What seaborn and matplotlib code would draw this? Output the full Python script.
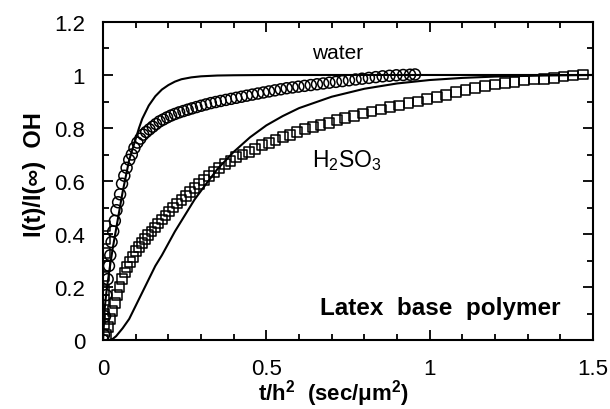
import numpy as np
import pandas as pd
import matplotlib
matplotlib.use("Agg")
import matplotlib.pyplot as plt
from matplotlib.ticker import MultipleLocator
import seaborn as sns

# ---- data ----
water_x = [0.000, 0.003, 0.006, 0.010, 0.014, 0.018, 0.022, 0.026, 0.031, 0.036,
           0.041, 0.046, 0.052, 0.058, 0.065, 0.072, 0.080, 0.088, 0.096, 0.105,
           0.114, 0.123, 0.132, 0.142, 0.152, 0.162, 0.173, 0.184, 0.196, 0.208,
           0.220, 0.233, 0.246, 0.259, 0.272, 0.286, 0.300, 0.315, 0.330, 0.345,
           0.360, 0.376, 0.392, 0.408, 0.424, 0.440, 0.457, 0.474, 0.491, 0.508,
           0.526, 0.544, 0.562, 0.580, 0.598, 0.617, 0.636, 0.655, 0.674, 0.693,
           0.713, 0.733, 0.753, 0.773, 0.793, 0.814, 0.835, 0.856, 0.877, 0.898,
           0.919, 0.940, 0.955]
water_y = [0.00, 0.02, 0.09, 0.17, 0.23, 0.28, 0.32, 0.37, 0.41, 0.45,
           0.49, 0.52, 0.55, 0.59, 0.62, 0.65, 0.68, 0.70, 0.725, 0.745,
           0.76, 0.775, 0.785, 0.795, 0.805, 0.815, 0.825, 0.832, 0.84, 0.847,
           0.853, 0.859, 0.864, 0.869, 0.874, 0.879, 0.884, 0.889, 0.894, 0.898,
           0.902, 0.906, 0.910, 0.914, 0.918, 0.922, 0.926, 0.930, 0.934, 0.938,
           0.942, 0.946, 0.950, 0.953, 0.956, 0.959, 0.962, 0.965, 0.968, 0.971,
           0.974, 0.977, 0.980, 0.983, 0.986, 0.989, 0.992, 0.995, 0.997, 0.999,
           1.000, 1.001, 1.002]

acid_x = [0.002, 0.003, 0.003, 0.004, 0.004, 0.005, 0.005, 0.006, 0.006,
          0.000, 0.008, 0.015, 0.022, 0.029, 0.036, 0.043, 0.050, 0.058, 0.066,
          0.074, 0.082, 0.091, 0.100, 0.109, 0.118, 0.128, 0.138, 0.148, 0.158,
          0.169, 0.180, 0.191, 0.203, 0.215, 0.227, 0.240, 0.253, 0.266, 0.280,
          0.294, 0.309, 0.324, 0.340, 0.356, 0.373, 0.390, 0.408, 0.427, 0.446,
          0.466, 0.486, 0.507, 0.528, 0.550, 0.572, 0.595, 0.618, 0.642, 0.666,
          0.691, 0.716, 0.742, 0.768, 0.795, 0.822, 0.850, 0.878, 0.906, 0.935,
          0.964, 0.993, 1.022, 1.050, 1.080, 1.110, 1.140, 1.170, 1.200, 1.230,
          1.260, 1.290, 1.320, 1.350, 1.380, 1.410, 1.440, 1.470]
acid_y = [0.06, 0.10, 0.15, 0.19, 0.24, 0.28, 0.33, 0.38, 0.43,
          0.00, 0.02, 0.05, 0.08, 0.11, 0.14, 0.17, 0.20, 0.23, 0.255,
          0.275, 0.295, 0.315, 0.335, 0.35, 0.365, 0.38, 0.395, 0.41, 0.425,
          0.44, 0.455, 0.47, 0.485, 0.50, 0.515, 0.53, 0.545, 0.56, 0.575,
          0.59, 0.605, 0.62, 0.635, 0.65, 0.665, 0.675, 0.69, 0.70, 0.71,
          0.72, 0.735, 0.745, 0.755, 0.765, 0.775, 0.785, 0.795, 0.805, 0.812,
          0.82, 0.83, 0.838, 0.846, 0.855, 0.862, 0.87, 0.878, 0.885, 0.893,
          0.90, 0.908, 0.917, 0.926, 0.935, 0.943, 0.951, 0.958, 0.964, 0.970,
          0.975, 0.979, 0.983, 0.986, 0.990, 0.994, 0.998, 1.002]

water_fit_x = [0.0, 0.005, 0.01, 0.02, 0.03, 0.04, 0.05, 0.06, 0.07, 0.08, 0.09, 0.10,
               0.11, 0.12, 0.13, 0.14, 0.16, 0.18, 0.20, 0.22, 0.24, 0.27, 0.30,
               0.35, 0.40, 0.50, 0.70, 1.00, 1.50]
water_fit_y = [0.0, 0.12, 0.18, 0.27, 0.35, 0.42, 0.49, 0.56, 0.62, 0.68, 0.72, 0.76,
               0.80, 0.835, 0.86, 0.885, 0.92, 0.945, 0.962, 0.975, 0.984, 0.991, 0.995,
               0.998, 0.999, 1.0, 1.0, 1.0, 1.0]

acid_fit_x = [0.0, 0.02, 0.03, 0.04, 0.05, 0.06, 0.08, 0.10, 0.12, 0.14, 0.16, 0.18,
              0.20, 0.22, 0.25, 0.28, 0.31, 0.35, 0.40, 0.45, 0.50, 0.55, 0.60, 0.70,
              0.80, 0.90, 1.00, 1.10, 1.20, 1.35, 1.50]
acid_fit_y = [0.0, 0.0, 0.005, 0.015, 0.03, 0.045, 0.08, 0.13, 0.18, 0.23, 0.28, 0.32,
              0.365, 0.41, 0.47, 0.53, 0.58, 0.645, 0.71, 0.765, 0.81, 0.845, 0.875, 0.918,
              0.948, 0.968, 0.981, 0.989, 0.994, 0.998, 1.0]

x_ticks = [0, 0.5, 1, 1.5]
x_ticklabels = ['0', '0.5', '1', '1.5']
y_ticks = [0, 0.2, 0.4, 0.6, 0.8, 1.0, 1.2]
y_ticklabels = ['0', '0.2', '0.4', '0.6', '0.8', '1', '1.2']

# ---- plotting ----
sns.set_style("ticks", {"axes.edgecolor": "black", "text.color": "black",
                        "axes.labelcolor": "black", "xtick.color": "black",
                        "ytick.color": "black"})
plt.rcParams['font.family'] = ['Liberation Sans', 'DejaVu Sans']
plt.rcParams['mathtext.fontset'] = 'custom'
plt.rcParams['mathtext.rm'] = 'Liberation Sans'
plt.rcParams['mathtext.it'] = 'Liberation Sans:italic'
plt.rcParams['mathtext.bf'] = 'Liberation Sans:bold'

fig = plt.figure(figsize=(6.1, 4.1), dpi=100)
ax = fig.add_axes([0.169, 0.168, 0.803, 0.776])

sns.lineplot(x=water_fit_x, y=water_fit_y, ax=ax, color='black', lw=1.5,
             estimator=None, sort=False)
sns.lineplot(x=acid_fit_x, y=acid_fit_y, ax=ax, color='black', lw=1.5,
             estimator=None, sort=False)
sns.scatterplot(x=water_x, y=water_y, ax=ax, marker='o', s=62,
                facecolor='none', edgecolor='black', linewidth=1.1, zorder=3)
sns.scatterplot(x=acid_x, y=acid_y, ax=ax, marker='s', s=50,
                facecolor='none', edgecolor='black', linewidth=1.1, zorder=3)

ax.set_xlim(0, 1.5)
ax.set_ylim(0, 1.2)
ax.xaxis.set_minor_locator(MultipleLocator(0.1))
ax.yaxis.set_minor_locator(MultipleLocator(0.1))
ax.set_xticks(x_ticks)
ax.set_xticklabels(x_ticklabels)
ax.set_yticks(y_ticks)
ax.set_yticklabels(y_ticklabels)
ax.tick_params(which='both', direction='in', top=True, right=True,
               labelsize=16, width=1.3, pad=13, colors='black')
ax.tick_params(which='major', length=7)
ax.tick_params(which='minor', length=4)
for s in ax.spines.values():
    s.set_linewidth(1.5)
    s.set_visible(True)
    s.set_color('black')

ax.set_xlabel('t/h$^\\mathbf{2}$  (sec/\u03bcm$^\\mathbf{2}$)', fontsize=16,
              fontweight='bold', labelpad=0, color='black')
ax.xaxis.set_label_coords(0.47, -0.165)
ax.xaxis.label.set_va('center')
ax.set_ylabel('I(t)/I(\u221e)  OH', fontsize=17, fontweight='bold', color='black')
ax.yaxis.set_label_coords(-0.116, 0.525)

ax.text(0.64, 1.065, 'water', fontsize=15, ha='left', va='baseline', color='black')
ax.text(0.64, 0.655, 'H$_\\mathrm{2}$SO$_\\mathrm{3}$', fontsize=16.5, ha='left',
        va='baseline', color='black')
ax.text(1.40, 0.098, 'Latex  base  polymer', fontsize=17.5, fontweight='bold',
        ha='right', va='baseline', color='black')

fig.savefig('out.png', dpi=100)
